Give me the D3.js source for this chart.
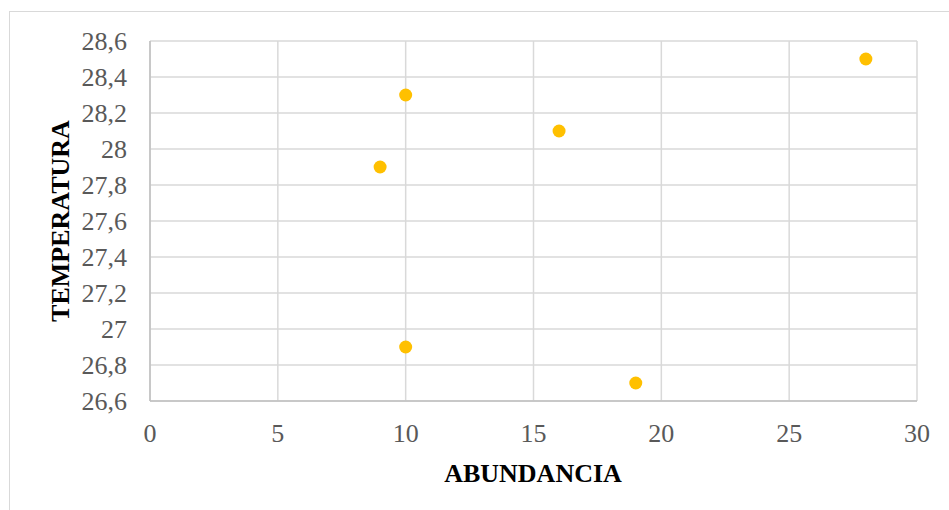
<!DOCTYPE html>
<html><head><meta charset="utf-8">
<script src="https://cdn.jsdelivr.net/npm/d3@7"></script>
<style>body{margin:0;background:#fff}svg{display:block}svg text{font-family:"Liberation Serif","Times New Roman","DejaVu Serif",serif}</style>
</head><body>
<svg id="c" width="949" height="510"></svg>
<script>
const abundancia = [9, 10, 10, 16, 19, 28];
const temperatura = [27.9, 28.3, 26.9, 28.1, 26.7, 28.5];
const xTicks = [0, 5, 10, 15, 20, 25, 30];
const yTicks = [26.6, 26.8, 27, 27.2, 27.4, 27.6, 27.8, 28, 28.2, 28.4, 28.6];
const xTitle = "ABUNDANCIA";
const yTitle = "TEMPERATURA";

const svg = d3.select("#c");
svg.append("rect").attr("x",9.5).attr("y",11.5).attr("width",960).attr("height",520)
  .attr("fill","#fff").attr("stroke","#d9d9d9").attr("stroke-width",1);

const x = d3.scaleLinear().domain([0,30]).range([150,917]);
const y = d3.scaleLinear().domain([26.6,28.6]).range([401,41]);

const g = svg.append("g");
g.selectAll(".gx").data(xTicks).join("line")
  .attr("x1",d=>x(d)).attr("x2",d=>x(d)).attr("y1",y(26.6)).attr("y2",y(28.6))
  .attr("stroke","#d9d9d9").attr("stroke-width",1.5);
g.selectAll(".gy").data(yTicks).join("line")
  .attr("x1",x(0)).attr("x2",x(30)).attr("y1",d=>y(d)).attr("y2",d=>y(d))
  .attr("stroke","#d9d9d9").attr("stroke-width",1.5);
g.append("line").attr("x1",x(0)).attr("x2",x(0)).attr("y1",y(26.6)).attr("y2",y(28.6)).attr("stroke","#bfbfbf").attr("stroke-width",1.5);
g.append("line").attr("x1",x(0)).attr("x2",x(30)).attr("y1",y(26.6)).attr("y2",y(26.6)).attr("stroke","#bfbfbf").attr("stroke-width",1.5);

const fmt = d => String(+d.toFixed(1)).replace(".", ",");
g.selectAll(".yl").data(yTicks).join("text")
  .attr("x",127).attr("y",d=>y(d)+9).attr("text-anchor","end")
  .attr("font-size",26).attr("fill","#595959").text(fmt);
g.selectAll(".xl").data(xTicks).join("text")
  .attr("x",d=>x(d)).attr("y",442).attr("text-anchor","middle")
  .attr("font-size",26).attr("fill","#595959").text(d=>d);

svg.append("text").attr("x",533).attr("y",482).attr("text-anchor","middle")
  .attr("font-size",26).attr("font-weight","bold").attr("fill","#000").text(xTitle);
svg.append("text").attr("transform","translate(69,221) rotate(-90)").attr("text-anchor","middle")
  .attr("font-size",26).attr("font-weight","bold").attr("fill","#000").text(yTitle);

svg.selectAll(".pt").data(abundancia.map((a,i)=>[a,temperatura[i]])).join("circle")
  .attr("cx",d=>x(d[0])).attr("cy",d=>y(d[1])).attr("r",6.5).attr("fill","#FFC000");
</script>
</body></html>
